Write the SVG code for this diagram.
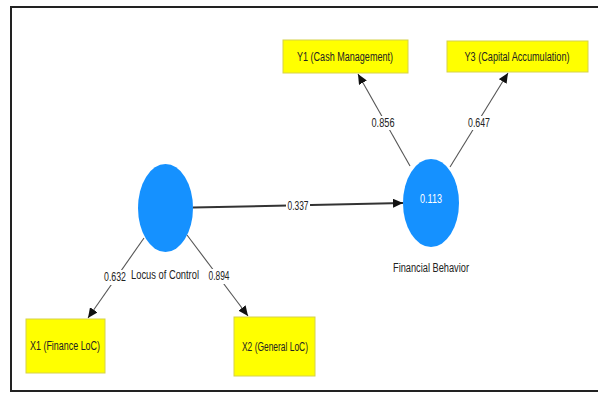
<svg xmlns="http://www.w3.org/2000/svg" width="598" height="394" viewBox="0 0 598 394">
<style>
text{font-family:"Liberation Sans Narrow","Liberation Sans","DejaVu Sans",sans-serif;font-size:12.5px;fill:#222;text-anchor:middle}
.num{font-size:12px}
.box{fill:#ffff00;stroke:#d6d24a;stroke-width:1}
.lv{fill:#1591ff}
.edge{stroke:#555;stroke-width:1.1;fill:none;marker-end:url(#arr)}
.main{stroke:#333;stroke-width:2}
.lbl{fill:#fff}
.wt{fill:#fff}
</style>
<defs>
<marker id="arr" markerUnits="userSpaceOnUse" markerWidth="10" markerHeight="9" refX="10" refY="4.5" orient="auto">
<path d="M0,0 L10,4.5 L0,9 Z" fill="#111"/>
</marker>
</defs>
<rect x="0" y="0" width="598" height="394" fill="#fff"/>
<rect x="11" y="7" width="600" height="384" fill="none" stroke="#222" stroke-width="2"/>
<g id="connectors">
<line class="edge main" x1="193" y1="207.5" x2="403" y2="203"/>
<rect class="lbl" x="286" y="199" width="24" height="14"/>
<text class="num" x="298" y="210" textLength="21" lengthAdjust="spacingAndGlyphs">0.337</text>
<line class="edge" x1="410" y1="166" x2="358" y2="74"/>
<rect class="lbl" x="371" y="116" width="25" height="14"/>
<text class="num" x="383" y="127" textLength="23" lengthAdjust="spacingAndGlyphs">0.856</text>
<line class="edge" x1="450" y1="167" x2="508" y2="73"/>
<rect class="lbl" x="467" y="116" width="24" height="14"/>
<text class="num" x="479" y="127" textLength="22" lengthAdjust="spacingAndGlyphs">0.647</text>
<line class="edge" x1="144" y1="238" x2="88" y2="318"/>
<rect class="lbl" x="105" y="270" width="22" height="15"/>
<text class="num" x="115" y="281" textLength="22" lengthAdjust="spacingAndGlyphs">0.632</text>
<line class="edge" x1="187" y1="235" x2="248" y2="316"/>
<rect class="lbl" x="207" y="269" width="22" height="15"/>
<text class="num" x="219" y="280" textLength="21" lengthAdjust="spacingAndGlyphs">0.894</text>
</g>
<g id="locus">
<ellipse class="lv" cx="165.5" cy="208" rx="27.5" ry="44"/>
<text x="165" y="279" textLength="68" lengthAdjust="spacingAndGlyphs">Locus of Control</text>
</g>
<g id="financial">
<ellipse class="lv" cx="431" cy="203" rx="28" ry="44"/>
<text class="wt" x="431" y="203" textLength="22" lengthAdjust="spacingAndGlyphs">0.113</text>
<text x="431" y="272" textLength="76" lengthAdjust="spacingAndGlyphs">Financial Behavior</text>
</g>
<g id="y1">
<rect class="box" x="283" y="40" width="125" height="33"/>
<text x="345" y="61" textLength="96" lengthAdjust="spacingAndGlyphs">Y1 (Cash Management)</text>
</g>
<g id="y3">
<rect class="box" x="447" y="41" width="141" height="31"/>
<text x="517" y="61" textLength="105" lengthAdjust="spacingAndGlyphs">Y3 (Capital Accumulation)</text>
</g>
<g id="x1">
<rect class="box" x="26" y="319" width="79" height="54"/>
<text x="65" y="350" textLength="70" lengthAdjust="spacingAndGlyphs">X1 (Finance LoC)</text>
</g>
<g id="x2">
<rect class="box" x="234" y="317" width="81" height="59"/>
<text x="275" y="351" textLength="66" lengthAdjust="spacingAndGlyphs">X2 (General LoC)</text>
</g>
</svg>
